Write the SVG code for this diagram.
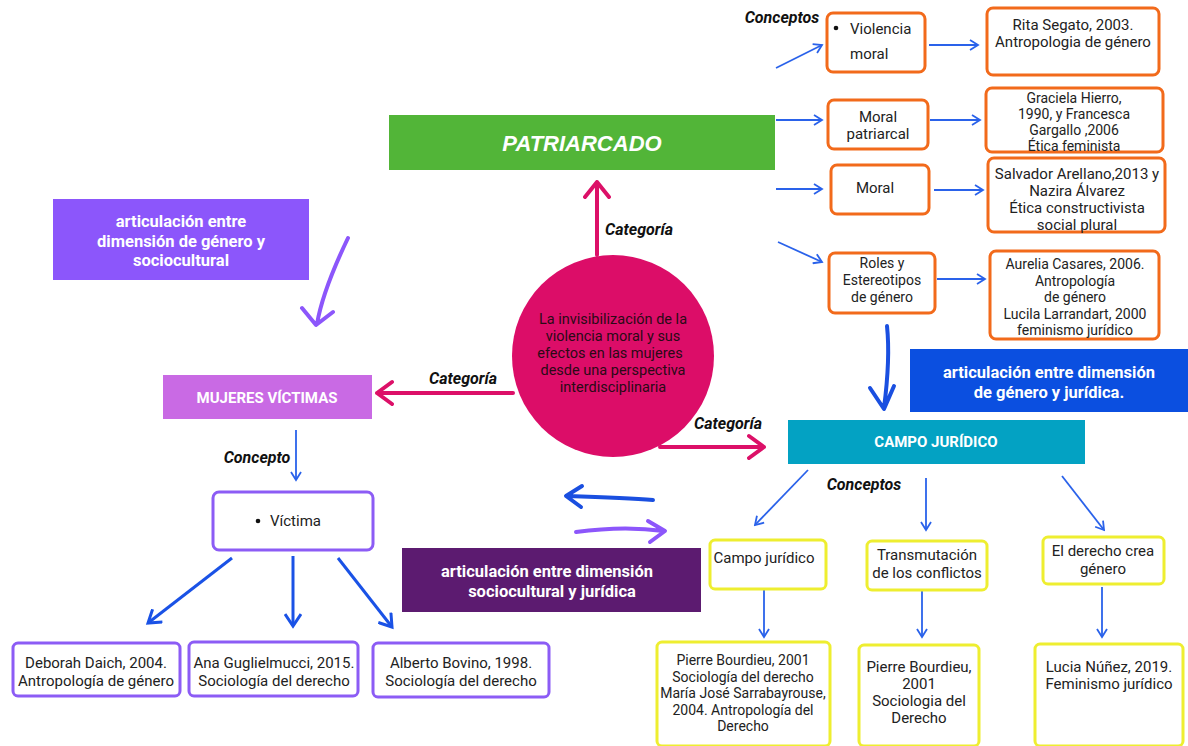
<svg xmlns="http://www.w3.org/2000/svg" width="1188" height="746" viewBox="0 0 1188 746">
<defs>
<style>
.t{font-family:Roboto,"Liberation Sans",sans-serif;font-size:15px;fill:#222;text-anchor:middle}
.tt{font-family:Roboto,"Liberation Sans",sans-serif;font-size:14px;fill:#222;text-anchor:middle}
.ts{font-family:Roboto,"Liberation Sans",sans-serif;font-size:15px;fill:#222;text-anchor:start}
.c{font-family:Roboto,"Liberation Sans",sans-serif;font-size:14.5px;fill:#2a0a16;text-anchor:middle}
.h{font-family:Roboto,"Liberation Sans",sans-serif;font-weight:700;font-size:16.5px;fill:#fff;text-anchor:middle}
.hr{font-family:Roboto,"Liberation Sans",sans-serif;font-weight:700;font-size:15px;fill:#fff;text-anchor:middle}
.pt{font-family:"Liberation Sans",Arial,sans-serif;font-weight:700;font-style:italic;font-size:22px;fill:#fff;text-anchor:middle}
.lab{font-family:Roboto,"Liberation Sans",sans-serif;font-weight:700;font-style:italic;font-size:16px;fill:#111;text-anchor:middle}
.ob{fill:#fff;stroke:#f26a1b;stroke-width:3}
.yb{fill:#fff;stroke:#eeee30;stroke-width:3}
.pb{fill:#fff;stroke:#8c5cf5;stroke-width:3}
.thin{fill:none;stroke:#2a62ea;stroke-width:1.8;marker-end:url(#ah)}
.mid{fill:none;stroke:#1a52e6;stroke-width:3;marker-end:url(#ah2)}
.pink{fill:none;stroke:#dc1068;stroke-width:4;stroke-linecap:round;stroke-linejoin:round}
.hand{fill:none;stroke-width:4;stroke-linecap:round;stroke-linejoin:round}
</style>
<marker id="ah" markerWidth="12" markerHeight="12" refX="10" refY="6" orient="auto" markerUnits="userSpaceOnUse">
<path d="M2,1 L10,6 L2,11" fill="none" stroke="#2a62ea" stroke-width="1.8"/>
</marker>
<marker id="ah2" markerWidth="18" markerHeight="18" refX="15" refY="9" orient="auto" markerUnits="userSpaceOnUse">
<path d="M3,1 L15,9 L3,17" fill="none" stroke="#1a52e6" stroke-width="3"/>
</marker>
</defs>
<rect width="1188" height="746" fill="#fff"/>

<g id="connectors">
<path class="thin" d="M776,68 L822,45"/>
<path class="thin" d="M776,120 L822,120"/>
<path class="thin" d="M776,189 L822,189"/>
<path class="thin" d="M778,242 L822,262"/>
<path class="thin" d="M929,45 L978,45"/>
<path class="thin" d="M930,120 L980,120"/>
<path class="thin" d="M934,190 L983,190"/>
<path class="thin" d="M937,279 L985,279"/>
<path class="thin" d="M808,470 L755,525"/>
<path class="thin" d="M926,478 L926,530"/>
<path class="thin" d="M1062,476 L1104,530"/>
<path class="thin" d="M764,590 L764,637"/>
<path class="thin" d="M922,590 L922,637"/>
<path class="thin" d="M1102,587 L1102,637"/>
<path class="thin" d="M296,430 L296,480"/>
<path class="mid" d="M232,558 L148,623"/>
<path class="mid" d="M293,556 L293,626"/>
<path class="mid" d="M338,558 L392,627"/>
<path class="pink" d="M597,255 L597,182 M585,197 L597,182 L609,197"/>
<path class="pink" d="M513,393 L377,393 M392,382 L377,393 L392,404"/>
<path class="pink" d="M660,447 L764,447 M749,436 L764,447 L749,458"/>
<path class="hand" stroke="#8c56fb" d="M348,238 C335,265 322,295 317,324 M302,308 L316,325 L333,312"/>
<path class="hand" stroke="#1a4fe0" d="M887,326 C890,355 887,385 884,408 M870,388 L884,409 L894,386"/>
<path class="hand" stroke="#1a4fe0" d="M653,500 C630,498 600,497 567,496 M582,486 L566,496 L581,507"/>
<path class="hand" stroke="#8c56fb" d="M576,532 C605,528 635,527 664,531 M648,521 L665,531 L650,542"/>
</g>

<g id="patriarcado">
<rect x="389" y="115" width="386" height="55" fill="#52b538"/>
<text class="pt" x="582" y="151">PATRIARCADO</text>
</g>
<text class="lab" x="782" y="23">Conceptos</text>
<text class="lab" x="639" y="235">Categoría</text>
<text class="lab" x="463" y="384">Categoría</text>
<text class="lab" x="728" y="429">Categoría</text>
<text class="lab" x="864" y="490">Conceptos</text>
<text class="lab" x="257" y="463">Concepto</text>

<g id="violencia-moral">
<rect class="ob" x="827" y="13" width="98" height="59" rx="6"/>
<circle cx="836" cy="28" r="2.3" fill="#111"/>
<text class="ts" x="850" y="34">Violencia</text>
<text class="ts" x="850" y="59">moral</text>
</g>
<g id="rita">
<rect class="ob" x="987" y="8" width="172" height="67" rx="6"/>
<text class="t" x="1073" y="30">Rita Segato, 2003.</text>
<text class="t" x="1073" y="47">Antropologia de género</text>
</g>
<g id="moral-patriarcal">
<rect class="ob" x="828" y="100" width="100" height="49" rx="6"/>
<text class="t" x="878" y="122">Moral</text>
<text class="t" x="878" y="139">patriarcal</text>
</g>
<g id="graciela">
<rect class="ob" x="986" y="88" width="177" height="64" rx="6"/>
<text class="tt" x="1074" y="103">Graciela Hierro,</text>
<text class="tt" x="1074" y="119">1990, y Francesca</text>
<text class="tt" x="1074" y="135">Gargallo ,2006</text>
<text class="tt" x="1074" y="151">Ética feminista</text>
</g>
<g id="moral">
<rect class="ob" x="831" y="165" width="98" height="49" rx="6"/>
<text class="t" x="875" y="193">Moral</text>
</g>
<g id="salvador">
<rect class="ob" x="988" y="158" width="177" height="74" rx="6"/>
<text class="t" x="1077" y="179">Salvador Arellano,2013 y</text>
<text class="t" x="1077" y="196">Nazira Álvarez</text>
<text class="t" x="1077" y="213">Ética constructivista</text>
<text class="t" x="1077" y="230">social  plural</text>
</g>
<g id="roles">
<rect class="ob" x="829" y="253" width="106" height="60" rx="6"/>
<text class="tt" x="882" y="268">Roles y</text>
<text class="tt" x="882" y="285">Estereotipos</text>
<text class="tt" x="882" y="302">de género</text>
</g>
<g id="aurelia">
<rect class="ob" x="990" y="251" width="169" height="88" rx="6"/>
<text class="tt" x="1075" y="269">Aurelia Casares, 2006.</text>
<text class="tt" x="1075" y="285.5">Antropología</text>
<text class="tt" x="1075" y="302">de género</text>
<text class="tt" x="1075" y="318.5">Lucila Larrandart, 2000</text>
<text class="tt" x="1075" y="335">feminismo jurídico</text>
</g>

<g id="art-genero-sociocultural">
<rect x="53" y="199" width="256" height="81" fill="#8c56fb"/>
<text class="h" x="181" y="227">articulación entre</text>
<text class="h" x="181" y="246.5">dimensión de género y</text>
<text class="h" x="181" y="266">sociocultural</text>
</g>

<g id="mujeres-victimas">
<rect x="163" y="375" width="209" height="44" fill="#c96ae4"/>
<text class="hr" x="267" y="403">MUJERES VÍCTIMAS</text>
</g>

<g id="centro">
<circle cx="613" cy="356" r="101" fill="#dc0d68"/>
<text class="c" x="613" y="324">La invisibilización de la</text>
<text class="c" x="613" y="341">violencia moral y sus</text>
<text class="c" x="610" y="358">efectos en las mujeres</text>
<text class="c" x="613" y="375">desde una perspectiva</text>
<text class="c" x="613" y="392">interdisciplinaria</text>
</g>

<g id="art-genero-juridica">
<rect x="910" y="349" width="278" height="63" fill="#0b4fe0"/>
<text class="h" x="1049" y="378">articulación entre dimensión</text>
<text class="h" x="1049" y="397.5">de género y jurídica.</text>
</g>

<g id="campo-juridico">
<rect x="788" y="420" width="297" height="44" fill="#03a2c3"/>
<text class="hr" x="936" y="447">CAMPO JURÍDICO</text>
</g>

<g id="art-sociocultural-juridica">
<rect x="402" y="548" width="299" height="64" fill="#5c1b70"/>
<text class="h" x="547" y="577">articulación entre dimensión</text>
<text class="h" x="552" y="596.5">sociocultural y jurídica</text>
</g>

<g id="victima">
<rect class="pb" x="213" y="492" width="160" height="58" rx="6"/>
<circle cx="258" cy="521" r="2.3" fill="#111"/>
<text class="ts" x="270" y="526">Víctima</text>
</g>
<g id="deborah">
<rect class="pb" x="13" y="643" width="167" height="53" rx="5"/>
<text class="t" x="96" y="668">Deborah Daich, 2004.</text>
<text class="t" x="96" y="686">Antropología de género</text>
</g>
<g id="ana">
<rect class="pb" x="189" y="642" width="169" height="54" rx="5"/>
<text class="t" x="274" y="668">Ana Guglielmucci, 2015.</text>
<text class="t" x="274" y="686">Sociología del derecho</text>
</g>
<g id="alberto">
<rect class="pb" x="373" y="643" width="176" height="54" rx="5"/>
<text class="t" x="461" y="668">Alberto Bovino, 1998.</text>
<text class="t" x="461" y="686">Sociología del derecho</text>
</g>

<g id="campo-juridico-c">
<rect class="yb" x="710" y="540" width="116" height="49" rx="5"/>
<text class="t" x="764" y="563">Campo jurídico</text>
</g>
<g id="transmutacion">
<rect class="yb" x="867" y="541" width="120" height="49" rx="5"/>
<text class="t" x="927" y="560">Transmutación</text>
<text class="t" x="927" y="578">de los conflictos</text>
</g>
<g id="derecho-crea">
<rect class="yb" x="1043" y="537" width="121" height="47" rx="5"/>
<text class="t" x="1103" y="556">El derecho crea</text>
<text class="t" x="1103" y="574">género</text>
</g>
<g id="bourdieu1">
<rect class="yb" x="657" y="642" width="173" height="104" rx="5"/>
<text class="tt" x="743" y="665">Pierre Bourdieu, 2001</text>
<text class="tt" x="743" y="681.5">Sociología del derecho</text>
<text class="tt" x="743" y="698">María José Sarrabayrouse,</text>
<text class="tt" x="743" y="714.5">2004. Antropología del</text>
<text class="tt" x="743" y="731">Derecho</text>
</g>
<g id="bourdieu2">
<rect class="yb" x="859" y="645" width="120" height="101" rx="5"/>
<text class="t" x="919" y="672">Pierre Bourdieu,</text>
<text class="t" x="919" y="689">2001</text>
<text class="t" x="919" y="706">Sociologia del</text>
<text class="t" x="919" y="723">Derecho</text>
</g>
<g id="lucia">
<rect class="yb" x="1035" y="644" width="148" height="102" rx="5"/>
<text class="t" x="1109" y="672">Lucia Núñez, 2019.</text>
<text class="t" x="1109" y="689">Feminismo jurídico</text>
</g>
</svg>
